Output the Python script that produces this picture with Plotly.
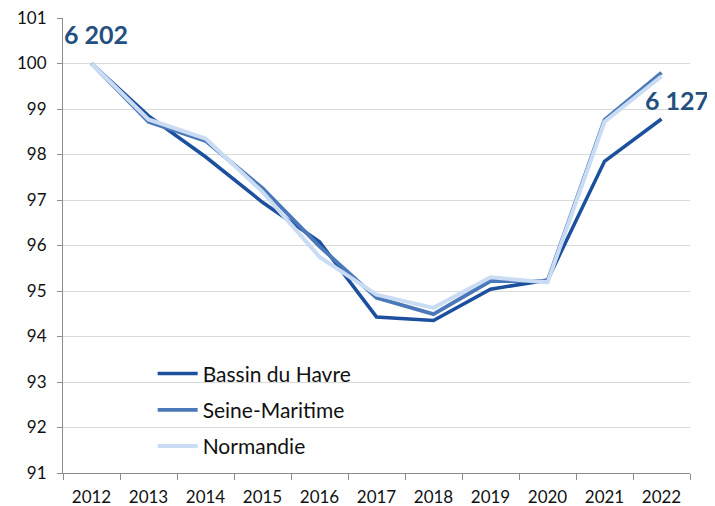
import plotly.graph_objects as go

years = ["2012", "2013", "2014", "2015", "2016", "2017", "2018", "2019", "2020", "2021", "2022"]
bassin = [100, 98.85, 97.95, 96.95, 96.08, 94.43, 94.35, 95.04, 95.24, 97.85, 98.78]
seine = [100, 98.72, 98.3, 97.26, 95.98, 94.85, 94.49, 95.22, 95.22, 98.76, 99.8]
normandie = [100, 98.77, 98.35, 97.18, 95.75, 94.92, 94.63, 95.3, 95.19, 98.72, 99.72]
label_start = "6 202"
label_end = "6 127"

font_fam = "Lato, 'Open Sans', sans-serif"

fig = go.Figure()
fig.add_trace(go.Scatter(x=years, y=bassin, name="Bassin du Havre", mode="lines", legendgroup="a",
                         legendrank=1, line=dict(color="#1c4f9e", width=3.5)))
fig.add_trace(go.Scatter(x=years, y=seine, name="Seine-Maritime", mode="lines", legendgroup="b",
                         legendrank=2, line=dict(color="#4a78b8", width=3.8)))
fig.add_trace(go.Scatter(x=years, y=normandie, name="Normandie", mode="lines", legendgroup="c",
                         legendrank=3, line=dict(color="#c9dcf3", width=4)))

fig.add_annotation(x=0, y=101, text="<b>" + label_start + "</b>", showarrow=False,
                   xanchor="center", yanchor="middle", yshift=-16, xshift=4,
                   font=dict(size=25, color="#23507f", family=font_fam))
fig.add_annotation(x=10, y=99.2, text="<b>" + label_end + "</b>", showarrow=False,
                   xanchor="center", yanchor="middle", xshift=15,
                   font=dict(size=25, color="#23507f", family=font_fam))

# page body has an 8px default margin; compensate so the figure fits the 715x506 window
fig.update_layout(
    width=707, height=498,
    margin=dict(l=55, r=25, t=10, b=33, autoexpand=False),
    plot_bgcolor="white", paper_bgcolor="white",
    font=dict(family=font_fam, size=17, color="#111111"),
    showlegend=True,
    legend=dict(x=0.143, y=0.263, xanchor="left", yanchor="top", traceorder="grouped",
                bgcolor="rgba(0,0,0,0)", font=dict(size=21, color="#111111"),
                itemwidth=40, tracegroupgap=6),
    xaxis=dict(type="category", range=[-0.5, 10.5], showgrid=False, automargin=False,
               showline=True, linecolor="#8c8c8c", linewidth=1,
               ticks="outside", tickson="boundaries", ticklen=6, tickcolor="#8c8c8c",
               tickfont=dict(size=17), ticklabelstandoff=9),
    yaxis=dict(range=[91, 101], dtick=1, showgrid=True, gridcolor="#d9d9d9", gridwidth=1,
               automargin=False, ticklabeloverflow="allow",
               showline=True, linecolor="#8c8c8c", linewidth=1,
               ticks="outside", ticklen=5, tickcolor="#8c8c8c",
               tickfont=dict(size=17), zeroline=False, ticklabelstandoff=7),
)

fig.write_html("out.html")
